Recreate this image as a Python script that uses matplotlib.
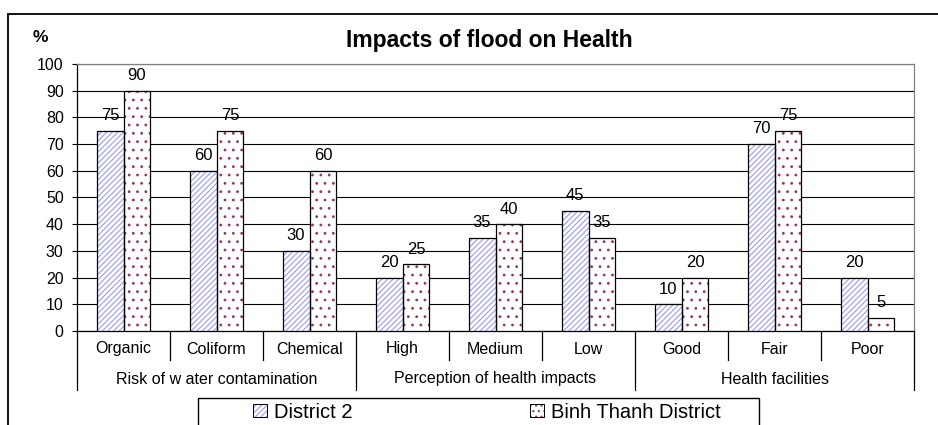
"""Bar chart: impacts of flood on health, District 2 vs Binh Thanh District."""
import matplotlib
matplotlib.use("Agg")
import matplotlib.pyplot as plt
from matplotlib.patches import Rectangle, Patch
from matplotlib.transforms import blended_transform_factory

plt.rcParams.update({"font.family": ["Liberation Sans", "DejaVu Sans"],
                     "hatch.linewidth": 0.8})

categories = ["Organic", "Coliform", "Chemical", "High", "Medium", "Low",
              "Good", "Fair", "Poor"]
groups = ["Risk of w ater contamination", "Perception of health impacts",
          "Health facilities"]
group_size = 3
district2 = [75, 60, 30, 20, 35, 45, 10, 70, 20]
binh_thanh = [90, 75, 60, 25, 40, 35, 20, 75, 5]
series_names = ["District 2", "Binh Thanh District"]
yticks = list(range(0, 101, 10))

W, H = 938, 425
fig = plt.figure(figsize=(W / 100, H / 100), dpi=100)
# plot area in pixels: x 77..914, y 64..331 (from top)
ax = fig.add_axes([77 / W, (H - 331) / H, (914 - 77) / W, (331 - 64) / H])

n = len(categories)
x = list(range(n))
bw = 0.29
blue = "#9999ff"
dots = "#993366"

# hatched fills first, then the black outlines on top
ax.bar([i - bw / 2 for i in x], district2, bw, facecolor="white",
       edgecolor=blue, hatch="//////", lw=0, zorder=3)
ax.bar([i - bw / 2 for i in x], district2, bw, fill=False,
       edgecolor="black", lw=0.9, zorder=4)
ax.bar([i + bw / 2 for i in x], binh_thanh, bw, facecolor="white",
       edgecolor=dots, hatch="..", lw=0, zorder=3)
ax.bar([i + bw / 2 for i in x], binh_thanh, bw, fill=False,
       edgecolor="black", lw=0.9, zorder=4)

for i in x:
    ax.annotate(str(district2[i]), (i - bw / 2, district2[i]), xytext=(0, 5.5),
                textcoords="offset points", ha="center", va="bottom", fontsize=12)
    ax.annotate(str(binh_thanh[i]), (i + bw / 2, binh_thanh[i]), xytext=(0, 5.5),
                textcoords="offset points", ha="center", va="bottom", fontsize=12)

ax.set_xlim(-0.5, n - 0.5)
ax.set_ylim(0, 100)
ax.set_yticks(yticks)
ax.tick_params(axis="y", length=3.6, width=0.8, pad=6, labelsize=11.5)
ax.set_xticks([])
ax.yaxis.grid(True, color="black", lw=0.8)
ax.set_axisbelow(True)
for side in ["left", "bottom"]:
    ax.spines[side].set_color("black")
    ax.spines[side].set_linewidth(0.9)
for side in ["top", "right"]:
    ax.spines[side].set_color("#808080")
    ax.spines[side].set_linewidth(0.9)

# two-level category axis drawn below the plot
ph = 331 - 64
tr = blended_transform_factory(ax.transData, ax.transAxes)
for i, c in enumerate(categories):
    ax.text(i, -18 / ph, c, transform=tr, ha="center", va="center", fontsize=11.5)
for b in range(n + 1):
    depth = 59 if b % group_size == 0 else 29
    ax.plot([b - 0.5, b - 0.5], [0, -depth / ph], transform=tr, color="black",
            lw=0.9, clip_on=False)
for g, name in enumerate(groups):
    mid = g * group_size + (group_size - 1) / 2
    ax.text(mid, -48 / ph, name, transform=tr, ha="center", va="center",
            fontsize=11.5)

fig.text(489 / W, 1 - 40 / H, "Impacts of flood on Health", ha="center",
         va="center", fontsize=16.5, fontweight="bold")
fig.text(40 / W, 1 - 38 / H, "%", ha="center", va="center", fontsize=12.5,
         fontweight="bold")

# outer chart frame and legend frame (both run off the bottom edge)
fig.patches.append(Rectangle((8 / W, -0.1), 2.0, 1.1 - 14 / H, fill=False,
                             ec="black", lw=1.3, transform=fig.transFigure))
fig.patches.append(Rectangle((198 / W, -0.1), (759 - 198) / W, 0.1 + (H - 398) / H,
                             fill=False, ec="black", lw=1.0,
                             transform=fig.transFigure))

handles = [(Patch(facecolor="white", edgecolor=blue, hatch="//////", lw=0),
            Patch(fill=False, edgecolor="black", lw=0.7)),
           (Patch(facecolor="white", edgecolor=dots, hatch="...", lw=0),
            Patch(fill=False, edgecolor="black", lw=0.7))]
fig.legend(handles, series_names, loc="center", ncol=2,
           bbox_to_anchor=(487 / W, 1 - 412 / H), frameon=False, fontsize=14.5,
           handlelength=0.7, handleheight=0.6, handletextpad=0.35,
           columnspacing=8.8, borderpad=0)

fig.savefig("out.png", dpi=100)
